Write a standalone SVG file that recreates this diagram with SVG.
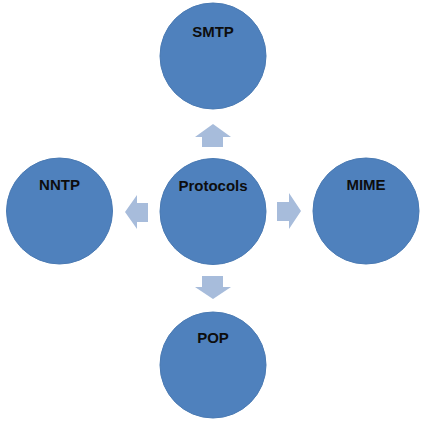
<svg xmlns="http://www.w3.org/2000/svg" width="426" height="430" viewBox="0 0 426 430">
<style>
.node circle{fill:#4F81BD;stroke:#4A7AB3;stroke-width:1}
.node text{font-family:"Liberation Sans",Arial,sans-serif;font-weight:bold;font-size:15px;fill:#0d0d0d;text-anchor:middle}
.arrow{fill:#A7BCDB}
</style>
<rect width="426" height="430" fill="#ffffff"/>
<g id="connectors">
<polygon class="arrow" points="213,124 231,137 223,137 223,147 202,147 202,137 195,137"/>
<polygon class="arrow" points="213,299 231,287 223,287 223,276 202,276 202,287 195,287"/>
<polygon class="arrow" points="125,212 137,195 137,203 148,203 148,222 137,222 137,229"/>
<polygon class="arrow" points="301,211 289,193 289,202 277,202 277,221 289,221 289,229"/>
</g>
<g id="node-smtp" class="node"><circle cx="213" cy="56" r="53"/><text x="213" y="37">SMTP</text></g>
<g id="node-protocols" class="node"><circle cx="213" cy="211.5" r="53"/><text x="213" y="191">Protocols</text></g>
<g id="node-nntp" class="node"><circle cx="59.5" cy="211" r="53"/><text x="59.5" y="190">NNTP</text></g>
<g id="node-mime" class="node"><circle cx="366" cy="211" r="53"/><text x="366" y="190">MIME</text></g>
<g id="node-pop" class="node"><circle cx="213" cy="365" r="53"/><text x="213" y="343">POP</text></g>
</svg>
